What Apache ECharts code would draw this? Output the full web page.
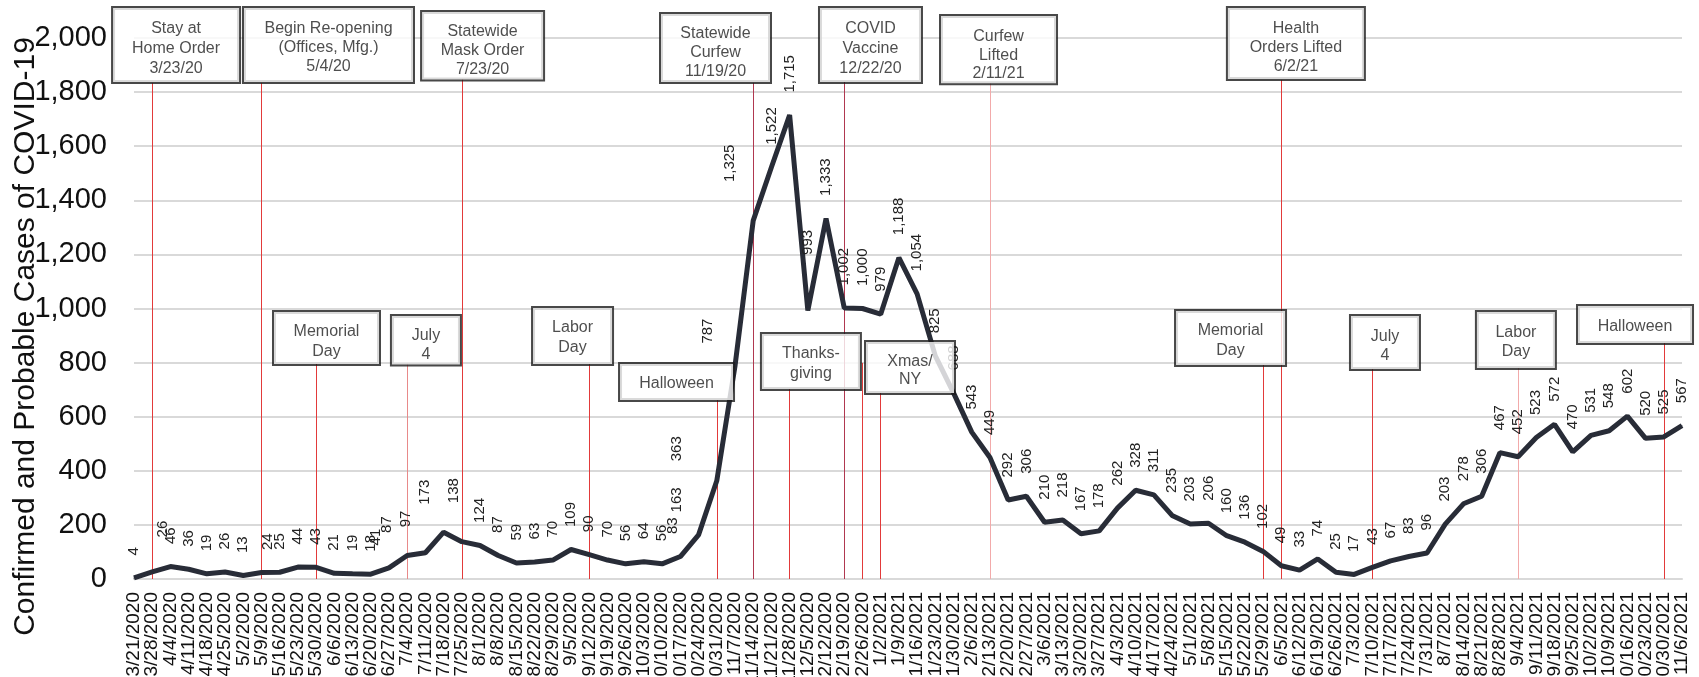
<!DOCTYPE html>
<html><head><meta charset="utf-8">
<script src="https://cdn.jsdelivr.net/npm/echarts@6/dist/echarts.min.js"></script>
<style>html,body{margin:0;padding:0;background:#fff}#c{width:1699px;height:677px}</style>
</head><body><div id="c"></div>
<script>
// ---------- data ----------
const weeks = ['3/21/2020','3/28/2020','4/4/2020','4/11/2020','4/18/2020','4/25/2020','5/2/2020','5/9/2020','5/16/2020','5/23/2020','5/30/2020','6/6/2020','6/13/2020','6/20/2020','6/27/2020','7/4/2020','7/11/2020','7/18/2020','7/25/2020','8/1/2020','8/8/2020','8/15/2020','8/22/2020','8/29/2020','9/5/2020','9/12/2020','9/19/2020','9/26/2020','10/3/2020','10/10/2020','10/17/2020','10/24/2020','10/31/2020','11/7/2020','11/14/2020','11/21/2020','11/28/2020','12/5/2020','12/12/2020','12/19/2020','12/26/2020',
'1/2/2021','1/9/2021','1/16/2021','1/23/2021','1/30/2021','2/6/2021','2/13/2021','2/20/2021','2/27/2021','3/6/2021','3/13/2021','3/20/2021','3/27/2021','4/3/2021','4/10/2021','4/17/2021','4/24/2021','5/1/2021','5/8/2021','5/15/2021','5/22/2021','5/29/2021','6/5/2021','6/12/2021','6/19/2021','6/26/2021','7/3/2021','7/10/2021','7/17/2021','7/24/2021','7/31/2021','8/7/2021','8/14/2021','8/21/2021','8/28/2021','9/4/2021','9/11/2021','9/18/2021','9/25/2021','10/2/2021','10/9/2021','10/16/2021','10/23/2021','10/30/2021','11/6/2021'];
const cases = [4,26,46,36,19,26,13,24,25,44,43,21,19,18,41,87,97,173,138,124,87,59,63,70,109,90,70,56,64,56,83,163,363,787,1325,1522,1715,993,1333,1002,1000,
979,1188,1054,825,688,543,449,292,306,210,218,167,178,262,328,311,235,203,206,160,136,102,49,33,74,25,17,43,67,83,96,203,278,306,467,452,523,572,470,531,548,602,520,525,567];
const yMin = 0, yMax = 2000, yStep = 200;
const yTitle = 'Confirmed and Probable Cases of COVID-19';

// event marker lines (week on the axis where the line is drawn)
const eventLineWeeks = ['3/28/2020','5/9/2020','5/30/2020','7/4/2020','7/25/2020','9/12/2020','10/31/2020','11/14/2020','11/28/2020','12/19/2020','12/26/2020','1/2/2021','2/13/2021','5/29/2021','6/5/2021','7/10/2021','9/4/2021','10/30/2021'];
// event boxes text
const eventTexts = ['Stay at\nHome Order\n3/23/20','Begin Re-opening\n(Offices, Mfg.)\n5/4/20','Statewide\nMask Order\n7/23/20','Statewide\nCurfew\n11/19/20','COVID\nVaccine\n12/22/20','Curfew\nLifted\n2/11/21','Health\nOrders Lifted\n6/2/21',
'Memorial\nDay','July\n4','Labor\nDay','Halloween','Thanks-\ngiving','Xmas/\nNY','Memorial\nDay','July\n4','Labor\nDay','Halloween'];

// ---------- layout / style (not data) ----------
const lineTops = [1834,1834,795,799,1848,795,662,1834,702,1837,799,688,1834,791,1845,776,780,872];
const lineColors = ['#e23a3a','#e23a3a','#e23a3a','#e88a8a','#e23a3a','#e23a3a','#e23a3a','#b03850','#e23a3a','#b03850','#e23a3a','#e23a3a','#f2aaaa','#e23a3a','#e23a3a','#e23a3a','#f2aaaa','#e23a3a'];
// [centre x (week position), box top (axis units), width px, pad top, pad bottom, line height]
const boxLayout = [
 [2.31,2111,126,11,3,20],[10.68,2111,169,11.5,5.5,19],[19.14,2096,121,10.5,0,19],[31.93,2089,109,10.5,0.5,19],
 [40.44,2111,101,11,3,20],[47.47,2081,115,11.75,0,18.5],[63.80,2111,136,11.5,2.5,19],
 [10.57,987,105,10,2,20],[16.03,972,68,10.5,0,19],[24.08,1002,79,10,6,20],[29.79,795,113,10,6,20],
 [37.17,906,98,10,5,20],[42.61,876,88,11,4,18],[60.21,991,109,10,4,20],[68.69,972,68,11.5,3.5,19],
 [75.88,987,78,11.5,6.5,19],[82.42,1009,114,11,6,20]];
// manual label nudges [index, dx px (right), extra up px]
const labelNudges = [[1,11,12],[7,6,0],[14,-13,0],[15,-20,0],[16,-20,3],[17,-19,5],[18,-8,16],[30,-7,0],[31,-22,0],[32,-40,-3],[33,-27,0],[34,-23,16],[37,0,33]];

const FONT = '"Liberation Sans", Arial, Helvetica, sans-serif';
const fmt = v => v.toLocaleString('en-US');

const nudgeMap = {};
labelNudges.forEach(n => nudgeMap[n[0]] = n);

const chart = echarts.init(document.getElementById('c'), null, { renderer: 'canvas' });
chart.setOption({
  animation: false,
  backgroundColor: '#fff',
  textStyle: { fontFamily: FONT },
  grid: { left: 134, right: 17, top: 38, bottom: 98, containLabel: false, outerBoundsMode: 'none' },
  xAxis: [{
    type: 'category', data: weeks, boundaryGap: false,
    axisLine: { lineStyle: { color: '#d9d9d9', width: 2 } },
    axisTick: { show: false },
    axisLabel: { interval: 0, rotate: 90, fontSize: 19, color: '#111', margin: 13, fontFamily: FONT }
  }, {
    type: 'value', min: 0, max: weeks.length - 1, show: false
  }],
  yAxis: {
    type: 'value', min: yMin, max: yMax, interval: yStep,
    axisLine: { show: false }, axisTick: { show: false },
    splitLine: { lineStyle: { color: '#d9d9d9', width: 2 } },
    axisLabel: { fontSize: 29, color: '#111', margin: 27, fontFamily: FONT, formatter: v => fmt(v) },
    name: yTitle, nameLocation: 'middle', nameGap: 93, nameMoveOverlap: false,
    nameTextStyle: { fontSize: 30, color: '#111', fontFamily: FONT, padding: [0, 56, 0, 0] }
  },
  series: [{
    type: 'line', data: [], z: 1, silent: true,
    markLine: {
      symbol: ['none', 'none'], silent: true, animation: false,
      label: { show: false }, emphasis: { disabled: true },
      data: eventLineWeeks.map((w, i) => [
        { coord: [w, lineTops[i]], lineStyle: { color: lineColors[i], width: 1, type: 'solid' } },
        { coord: [w, 0] }
      ])
    }
  }, {
    type: 'line', data: cases, z: 5, silent: true,
    symbol: 'circle', symbolSize: 1,
    lineStyle: { color: '#282c37', width: 5 },
    itemStyle: { color: '#282c37' },
    label: {
      show: true, position: 'top', rotate: 90, align: 'left', verticalAlign: 'middle',
      distance: 22, fontSize: 15, color: '#222', fontFamily: FONT,
      formatter: p => fmt(p.value)
    },
    // label is rotated 90deg: its local x runs up the screen, local y runs right
    labelLayout: p => {
      const n = nudgeMap[p.dataIndex];
      return n ? { dx: n[2], dy: n[1] } : {};
    }
  }, {
    type: 'scatter', xAxisIndex: 1, yAxisIndex: 0, z: 10, silent: true, clip: false,
    symbolSize: 1, itemStyle: { color: 'rgba(0,0,0,0)' },
    label: {
      show: true, position: 'inside', fontSize: 16, color: '#222', fontFamily: FONT,
      backgroundColor: '#fff', borderColor: '#1a1a1a', borderWidth: 2,
      align: 'center', verticalAlign: 'top'
    },
    data: boxLayout.map((b, i) => ({
      value: [b[0], b[1]],
      label: { formatter: eventTexts[i], width: b[2], padding: [b[3], 0, b[4], 0], lineHeight: b[5] }
    }))
  }]
});
</script></body></html>
